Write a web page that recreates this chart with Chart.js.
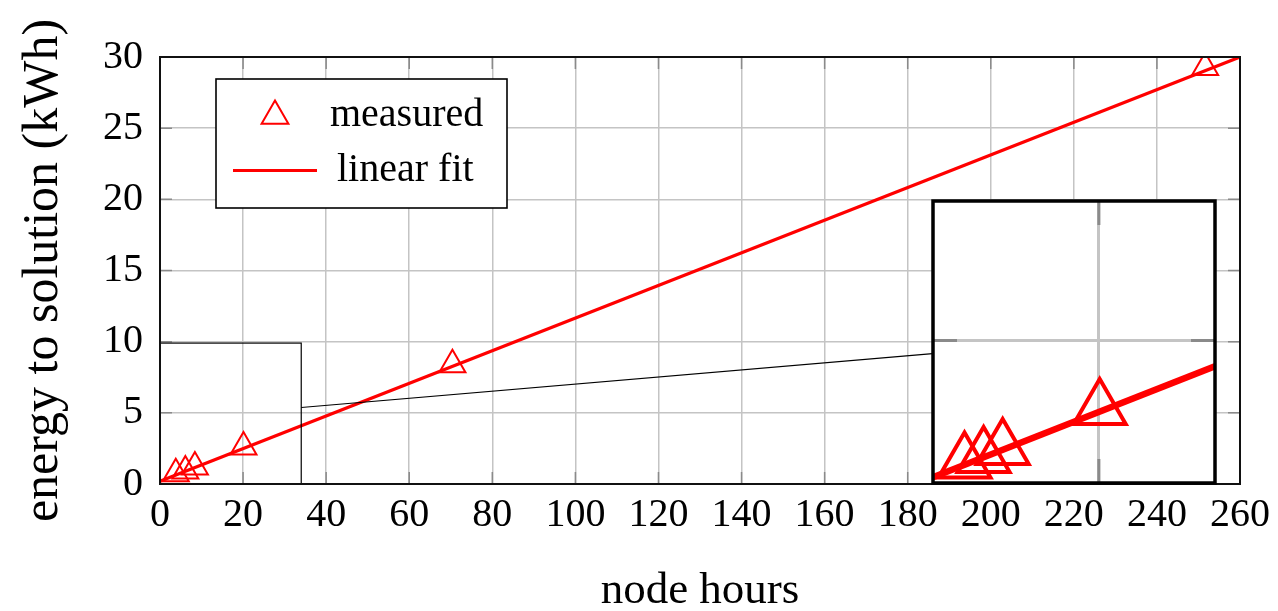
<!DOCTYPE html>
<html><head><meta charset="utf-8">
<script src="https://cdn.jsdelivr.net/npm/chart.js@4.4.1/dist/chart.umd.min.js"></script>
<style>
html,body{margin:0;padding:0;background:#fff;overflow:hidden}
#wrap{position:relative;width:1278px;height:611px}
#main{position:absolute;left:0;top:0}
#inset{position:absolute;left:0;top:0}
</style></head><body>
<div id="wrap"><canvas id="main" width="1278" height="611"></canvas><canvas id="inset" width="10" height="10"></canvas></div>
<script>
// ---- data ----
const xTicks = [0,20,40,60,80,100,120,140,160,180,200,220,240,260];
const yTicks = [0,5,10,15,20,25,30];
const measuredX = [3.8, 6.1, 8.4, 20.1, 70.4, 251.6];
const measuredY = [0.72, 0.91, 1.19, 2.6, 8.37, 29.26];
const fitX = [0, 260];
const fitY = [0.2, 30];
const seriesNames = ['measured', 'linear fit'];
const xTitle = 'node hours';
const yTitle = 'energy to solution (kWh)';
// spy (zoom inset) definition in data coordinates
const spySourceX = [0, 34];
const spySourceY = [0, 9.9];
const spyCenter = [220, 10];
const spyMag = 2;
const insetTicksX = [20];
const insetTicksY = [5];

const RED = '#ff0000';
const FONT = 'Liberation Serif';
Chart.defaults.font.family = FONT;
Chart.defaults.color = '#000';

const toPts = (xs, ys) => xs.map((x, i) => ({x, y: ys[i]}));

function spyGeom(chart) {
  const xs = chart.scales.x, ys = chart.scales.y;
  const sL = xs.getPixelForValue(spySourceX[0]), sR = xs.getPixelForValue(spySourceX[1]);
  const sB = ys.getPixelForValue(spySourceY[0]), sT = ys.getPixelForValue(spySourceY[1]);
  const cx = xs.getPixelForValue(spyCenter[0]), cy = ys.getPixelForValue(spyCenter[1]);
  const w = (sR - sL) * spyMag, h = (sB - sT) * spyMag;
  return {sL, sR, sT, sB, cx, cy, iL: cx - w / 2, iR: cx + w / 2, iT: cy - h / 2, iB: cy + h / 2, w, h};
}

const mainDecor = {
  id: 'mainDecor',
  afterDraw(chart) {
    const ctx = chart.ctx, a = chart.chartArea;
    const xs = chart.scales.x, ys = chart.scales.y;
    ctx.save();
    // inner ticks
    ctx.strokeStyle = '#8a8a8a'; ctx.lineWidth = 1.5;
    const tl = 12;
    xTicks.forEach(v => {
      const p = xs.getPixelForValue(v);
      ctx.beginPath(); ctx.moveTo(p, a.bottom); ctx.lineTo(p, a.bottom - tl);
      ctx.moveTo(p, a.top); ctx.lineTo(p, a.top + tl); ctx.stroke();
    });
    yTicks.forEach(v => {
      const p = ys.getPixelForValue(v);
      ctx.beginPath(); ctx.moveTo(a.left, p); ctx.lineTo(a.left + tl, p);
      ctx.moveTo(a.right, p); ctx.lineTo(a.right - tl, p); ctx.stroke();
    });
    // spy source rect + connector
    const g = spyGeom(chart);
    ctx.strokeStyle = '#000'; ctx.lineWidth = 1.2;
    ctx.strokeRect(g.sL, g.sT, g.sR - g.sL, g.sB - g.sT);
    const scx = (g.sL + g.sR) / 2, scy = (g.sT + g.sB) / 2;
    const t1 = (g.sR - scx) / (g.cx - scx), t2 = (g.iL - scx) / (g.cx - scx);
    ctx.beginPath();
    ctx.moveTo(scx + t1 * (g.cx - scx), scy + t1 * (g.cy - scy));
    ctx.lineTo(scx + t2 * (g.cx - scx), scy + t2 * (g.cy - scy));
    ctx.stroke();
    // axis box
    ctx.strokeStyle = '#111'; ctx.lineWidth = 2;
    ctx.strokeRect(a.left, a.top, a.right - a.left, a.bottom - a.top);
    // legend
    const lx = 216, ly = 79, lw = 291, lh = 129;
    ctx.fillStyle = '#fff'; ctx.fillRect(lx, ly, lw, lh);
    ctx.strokeStyle = '#000'; ctx.lineWidth = 1.6; ctx.strokeRect(lx, ly, lw, lh);
    ctx.strokeStyle = RED; ctx.lineWidth = 2;
    ctx.beginPath();
    ctx.moveTo(275, 116 - 15.5); ctx.lineTo(275 + 13.4, 116 + 7.75); ctx.lineTo(275 - 13.4, 116 + 7.75); ctx.closePath(); ctx.stroke();
    ctx.lineWidth = 3.2;
    ctx.beginPath(); ctx.moveTo(233, 170.5); ctx.lineTo(317, 170.5); ctx.stroke();
    ctx.fillStyle = '#000'; ctx.font = '40px "' + FONT + '"';
    ctx.textBaseline = 'alphabetic'; ctx.textAlign = 'left';
    ctx.fillText(seriesNames[0], 330, 126);
    ctx.fillText(seriesNames[1], 337, 181);
    ctx.restore();
  }
};

const mainChart = new Chart(document.getElementById('main'), {
  type: 'scatter',
  data: {
    datasets: [
      {label: seriesNames[0], data: toPts(measuredX, measuredY), showLine: false,
       pointStyle: 'triangle', pointRadius: 15, pointHoverRadius: 15, borderColor: RED,
       backgroundColor: 'rgba(0,0,0,0)', pointBorderWidth: 2, borderWidth: 2},
      {label: seriesNames[1], data: toPts(fitX, fitY), showLine: true, pointRadius: 0,
       borderColor: RED, borderWidth: 3.2, backgroundColor: RED, clip: 0}
    ]
  },
  options: {
    responsive: false, animation: false, devicePixelRatio: 1,
    layout: {padding: {top: 57, right: 38, left: 0, bottom: 0}, autoPadding: false},
    plugins: {legend: {display: false}, tooltip: {enabled: false}},
    events: [],
    scales: {
      x: {
        type: 'linear', min: 0, max: 260,
        afterBuildTicks: s => { s.ticks = xTicks.map(v => ({value: v})); },
        afterFit: s => { s.height = 127; },
        grid: {color: '#c4c4c4', lineWidth: 1.5, drawTicks: false},
        border: {display: false},
        ticks: {font: {size: 40, family: FONT}, color: '#000', padding: 7, maxRotation: 0, autoSkip: false},
        title: {display: true, text: xTitle, font: {size: 45, family: FONT, lineHeight: 0.86}, color: '#000', padding: 0}
      },
      y: {
        type: 'linear', min: 0, max: 30,
        afterBuildTicks: s => { s.ticks = yTicks.map(v => ({value: v})); },
        afterFit: s => { s.width = 160; },
        grid: {color: '#c4c4c4', lineWidth: 1.5, drawTicks: false},
        border: {display: false},
        ticks: {font: {size: 40, family: FONT}, color: '#000', padding: 17, autoSkip: false},
        title: {display: true, text: yTitle, font: {size: 50, family: FONT, lineHeight: 1}, color: '#000', padding: {top: 19, bottom: 0}}
      }
    }
  },
  plugins: [mainDecor]
});

// ---- inset (spy) chart ----
const g = spyGeom(mainChart);
const M = 6;
const ic = document.getElementById('inset');
ic.width = Math.round(g.w + 2 * M); ic.height = Math.round(g.h + 2 * M);
ic.style.left = (g.iL - M) + 'px'; ic.style.top = (g.iT - M) + 'px';

const insetDecor = {
  id: 'insetDecor',
  beforeDraw(chart) {
    const a = chart.chartArea, ctx = chart.ctx;
    ctx.save(); ctx.fillStyle = '#fff';
    ctx.fillRect(a.left, a.top, a.right - a.left, a.bottom - a.top); ctx.restore();
  },
  afterDraw(chart) {
    const a = chart.chartArea, ctx = chart.ctx;
    const xs = chart.scales.x, ys = chart.scales.y;
    ctx.save();
    ctx.strokeStyle = '#8a8a8a'; ctx.lineWidth = 3;
    const tl = 24;
    insetTicksX.forEach(v => {
      const p = xs.getPixelForValue(v);
      ctx.beginPath(); ctx.moveTo(p, a.bottom); ctx.lineTo(p, a.bottom - tl);
      ctx.moveTo(p, a.top); ctx.lineTo(p, a.top + tl); ctx.stroke();
    });
    insetTicksY.forEach(v => {
      const p = ys.getPixelForValue(v);
      ctx.beginPath(); ctx.moveTo(a.left, p); ctx.lineTo(a.left + tl, p);
      ctx.moveTo(a.right, p); ctx.lineTo(a.right - tl, p); ctx.stroke();
    });
    ctx.strokeStyle = '#000'; ctx.lineWidth = 3.5;
    ctx.strokeRect(a.left, a.top, a.right - a.left, a.bottom - a.top);
    ctx.restore();
  }
};

new Chart(ic, {
  type: 'scatter',
  data: {
    datasets: [
      {label: seriesNames[0], data: toPts(measuredX, measuredY), showLine: false,
       pointStyle: 'triangle', pointRadius: 15 * spyMag, pointHoverRadius: 15 * spyMag, borderColor: RED,
       backgroundColor: 'rgba(0,0,0,0)', pointBorderWidth: 2 * spyMag, borderWidth: 2 * spyMag},
      {label: seriesNames[1], data: toPts(fitX, fitY), showLine: true, pointRadius: 0,
       borderColor: RED, borderWidth: 3.2 * spyMag, backgroundColor: RED}
    ]
  },
  options: {
    responsive: false, animation: false, devicePixelRatio: 1,
    layout: {padding: M, autoPadding: false},
    plugins: {legend: {display: false}, tooltip: {enabled: false}},
    events: [],
    scales: {
      x: {
        type: 'linear', min: spySourceX[0], max: spySourceX[1],
        afterBuildTicks: s => { s.ticks = insetTicksX.map(v => ({value: v})); },
        afterFit: s => { s.height = 0; },
        grid: {color: '#c4c4c4', lineWidth: 3, drawTicks: false},
        border: {display: false}, ticks: {display: false}
      },
      y: {
        type: 'linear', min: spySourceY[0], max: spySourceY[1],
        afterBuildTicks: s => { s.ticks = insetTicksY.map(v => ({value: v})); },
        afterFit: s => { s.width = 0; },
        grid: {color: '#c4c4c4', lineWidth: 3, drawTicks: false},
        border: {display: false}, ticks: {display: false}
      }
    }
  },
  plugins: [insetDecor]
});
</script>
</body></html>
